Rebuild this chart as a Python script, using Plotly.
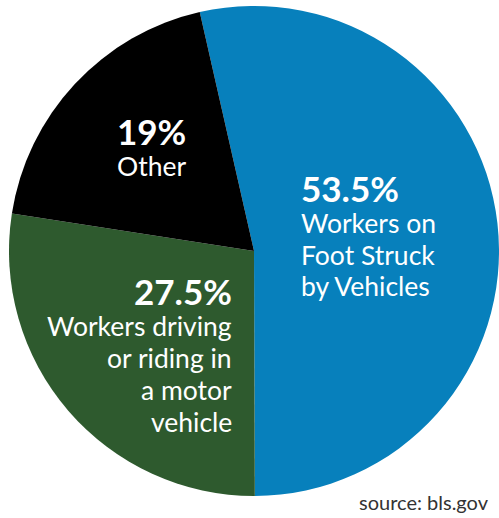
import plotly.graph_objects as go

# data
labels = ["Workers on Foot Struck by Vehicles", "Workers driving or riding in a motor vehicle", "Other"]
values = [53.5, 27.5, 19]
pct_text = ["53.5%", "27.5%", "19%"]
label_lines = [["Workers on", "Foot Struck", "by Vehicles"],
               ["Workers driving", "or riding in", "a motor", "vehicle"],
               ["Other"]]
colors = ["#0780BC", "#2E5A2E", "#000000"]
source_text = "source: bls.gov"

W, H = 499, 518
FONT = "Lato"

fig = go.Figure(go.Pie(
    labels=labels, values=values, sort=False, direction="clockwise",
    rotation=-12.8, textinfo="none", hoverinfo="label+percent",
    marker=dict(colors=colors, line=dict(width=0)),
    domain=dict(x=[(254-245)/W, min(1, (254+245)/W)], y=[(267-245)/H, (267+245)/H]),
    showlegend=False,
))

# label block anchors: (x px, anchor, pct center y, first line y, line step)
blocks = [
    (299, "left", 188, 223, 31.5),
    (234, "right", 291, 326, 32),
    (151, "center", 131, 166, 32),
]
anns = []
for i, (x, anc, py, ly, step) in enumerate(blocks):
    anns.append(dict(x=x/W, y=1-py/H, xref="paper", yref="paper", xanchor=anc, yanchor="middle",
                     text="<b>"+pct_text[i]+"</b>", showarrow=False,
                     font=dict(family=FONT, size=35, color="white")))
    for j, line in enumerate(label_lines[i]):
        anns.append(dict(x=x/W, y=1-(ly+j*step)/H, xref="paper", yref="paper", xanchor=anc, yanchor="middle",
                         text=line, showarrow=False,
                         font=dict(family=FONT, size=26.5, color="white")))
anns.append(dict(x=491/W, y=1-502/H, xref="paper", yref="paper", xanchor="right", yanchor="middle",
                 text=source_text, showarrow=False, font=dict(family=FONT, size=20, color="#333333")))

fig.update_layout(width=W, height=H, margin=dict(l=0, r=0, t=0, b=0),
                  paper_bgcolor="white", plot_bgcolor="white", annotations=anns)
fig.write_html("out.html", config={"displayModeBar": False},
               post_script="document.body.style.margin='0';document.body.style.overflow='hidden';")
